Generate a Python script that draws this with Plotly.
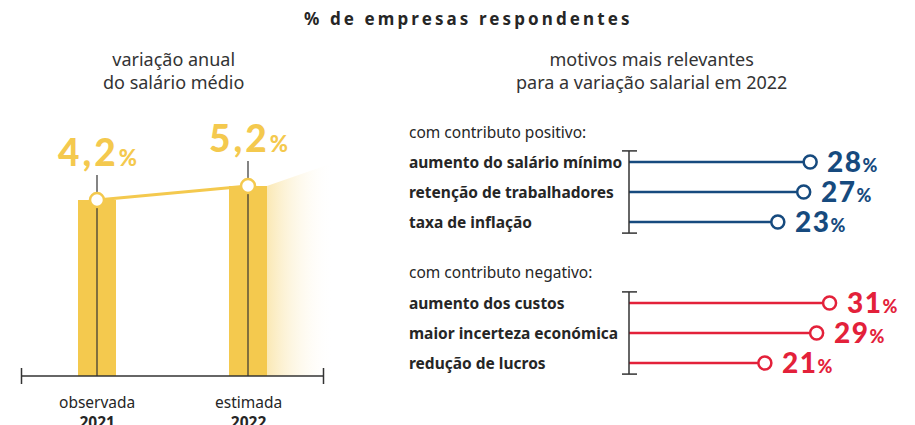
import plotly.graph_objects as go

# ---------------- data ----------------
years = ["2021", "2022"]
year_kind = ["observada", "estimada"]
salary_var = [4.2, 5.2]
salary_lbl = ["4,2", "5,2"]

pos_reasons = ["aumento do salário mínimo", "retenção de trabalhadores", "taxa de inflação"]
pos_values = [28, 27, 23]
neg_reasons = ["aumento dos custos", "maior incerteza económica", "redução de lucros"]
neg_values = [31, 29, 21]

# ---------------- style ----------------
W, H = 915, 425
OFF = 8  # page body margin
YELLOW = "#F4C94E"
BLUE = "#164A7E"
RED = "#E3213A"
DARK = "#262626"
FONT = "Noto Sans"
NUMFONT = "Lato"

def py(px):  # screen pixel row -> paper y
    return 1 - (px - OFF) / H

def pxx(px):  # screen pixel col -> paper x
    return (px - OFF) / W

# left panel scale
LX0, LXS = 97, 151.0          # px of category 0, px per unit
LY0, LYS = 258.8, 14.0        # px of value 0, px per unit
BASE = (LY0 - 376) / LYS      # baseline value (axis position)
lx_dom = (14, 340)
ly_dom = (95, 392)
lx_rng = [(lx_dom[0] - LX0) / LXS, (lx_dom[1] - LX0) / LXS]
ly_rng = [(LY0 - ly_dom[1]) / LYS, (LY0 - ly_dom[0]) / LYS]

# right panel scale
RX0, RXS = 629, 6.47
rx_dom = (612, 920)
rx_rng = [(rx_dom[0] - RX0) / RXS, (rx_dom[1] - RX0) / RXS]
ROW = 30.0

fig = go.Figure()
xs = list(range(len(years)))

# bars
fig.add_trace(go.Bar(x=xs, y=[v - BASE for v in salary_var], base=BASE, width=0.25,
                     marker=dict(color=YELLOW, line=dict(width=0)), xaxis="x", yaxis="y",
                     hoverinfo="skip"))
# gradient decoration to the right of 2022 bar
gx0 = xs[-1] + 0.125
gx1 = (333 - LX0) / LXS
gtop = salary_var[-1] + (salary_var[-1] - salary_var[0]) * 1.64
fig.add_trace(go.Scatter(x=[gx0, gx1, gx1, gx0, gx0], y=[salary_var[-1], gtop, BASE, BASE, salary_var[-1]],
                         mode="lines", line=dict(width=0), fill="toself",
                         fillgradient=dict(type="horizontal",
                                           colorscale=[[0, "rgba(244,201,78,0.42)"], [1, "rgba(255,255,255,0)"]]),
                         xaxis="x", yaxis="y", hoverinfo="skip"))
# black vertical guide lines
vx, vy = [], []
for i, v in zip(xs, salary_var):
    vx += [i, i, None]
    vy += [BASE, v + 25 / LYS, None]
fig.add_trace(go.Scatter(x=vx, y=vy, mode="lines", line=dict(color="#333333", width=1.2),
                         xaxis="x", yaxis="y", hoverinfo="skip"))
# yellow line + circles
fig.add_trace(go.Scatter(x=xs, y=salary_var, mode="lines+markers",
                         line=dict(color=YELLOW, width=3),
                         marker=dict(size=14, color="white", line=dict(color=YELLOW, width=2.5)),
                         xaxis="x", yaxis="y", hoverinfo="skip"))

# lollipops
def lollipop(reasons, values, color, xa, ya):
    lx, ly = [], []
    for r, v in zip(reasons, values):
        lx += [0, v, None]
        ly += [r, r, None]
    fig.add_trace(go.Scatter(x=lx, y=ly, mode="lines", line=dict(color=color, width=2.5),
                             xaxis=xa, yaxis=ya, hoverinfo="skip"))
    fig.add_trace(go.Scatter(x=values, y=reasons, mode="markers",
                             marker=dict(size=13, color="white", line=dict(color=color, width=2.5)),
                             xaxis=xa, yaxis=ya, hoverinfo="skip"))

lollipop(pos_reasons, pos_values, BLUE, "x2", "y2")
lollipop(neg_reasons, neg_values, RED, "x3", "y3")

annotations = []
shapes = []

# titles
annotations.append(dict(x=pxx(468), y=py(18), xref="paper", yref="paper", xanchor="center", yanchor="middle",
                         showarrow=False,
                         text="<span style='letter-spacing:3.1px'>% de empresas respondentes</span>",
                         font=dict(family=FONT, size=17, color=DARK, weight=700)))
annotations.append(dict(x=pxx(173), y=py(71), xref="paper", yref="paper", xanchor="center", yanchor="middle",
                         showarrow=False, text="variação anual<br>do salário médio",
                         font=dict(family=FONT, size=18, color="#333333")))
annotations.append(dict(x=pxx(651), y=py(71), xref="paper", yref="paper", xanchor="center", yanchor="middle",
                         showarrow=False, text="motivos mais relevantes<br>para a variação salarial em 2022",
                         font=dict(family=FONT, size=18, color="#333333")))

# left panel labels
for i, v, lbl, yr, kind in zip(xs, salary_var, salary_lbl, years, year_kind):
    annotations.append(dict(x=i, y=v, xref="x", yref="y", xanchor="center", yanchor="bottom", yshift=24,
                            showarrow=False,
                            text=f"<span style='letter-spacing:3px'>{lbl}</span><span style='font-size:22px'>%</span>",
                            font=dict(family=NUMFONT, size=37, color=YELLOW, weight=900)))
    annotations.append(dict(x=i, y=BASE, xref="x", yref="y", xanchor="center", yanchor="top", yshift=-13,
                            showarrow=False, text=f"{kind}<br><b>{yr}</b>",
                            font=dict(family=FONT, size=15.5, color=DARK)))

# left axis line with end ticks
ax0, ax1 = xs[0] - 0.5, xs[-1] + 0.5
shapes.append(dict(type="line", xref="x", yref="y", x0=ax0, x1=ax1, y0=BASE, y1=BASE,
                   line=dict(color="#333333", width=1.5)))
for xv in (ax0, ax1):
    shapes.append(dict(type="line", xref="x", yref="y", x0=xv, x1=xv, y0=BASE - 8 / LYS, y1=BASE + 8 / LYS,
                       line=dict(color="#333333", width=1.5)))

# right panel labels
def group_labels(header, header_px, reasons, values, color, xa, ya):
    annotations.append(dict(x=pxx(407), y=py(header_px), xref="paper", yref="paper", xanchor="left",
                            yanchor="middle", showarrow=False, text=header,
                            font=dict(family=FONT, size=15.5, color=DARK)))
    for r, v in zip(reasons, values):
        annotations.append(dict(x=pxx(407), y=r, xref="paper", yref=ya, xanchor="left", yanchor="middle",
                                showarrow=False, text=r,
                                font=dict(family=FONT, size=15.5, color=DARK, weight=700)))
        annotations.append(dict(x=v, y=r, xref=xa, yref=ya, xanchor="left", yanchor="middle", xshift=15, yshift=1,
                                showarrow=False,
                                text=f"<span style='letter-spacing:1.5px'>{v}</span><span style='font-size:18px'>%</span>",
                                font=dict(family=NUMFONT, size=28, color=color, weight=900)))
    n = len(reasons)
    y0, y1 = -0.37, n - 1 + 0.37
    shapes.append(dict(type="line", xref=xa, yref=ya, x0=0, x1=0, y0=y0, y1=y1,
                       line=dict(color="#333333", width=1.5)))
    for yv in (y0, y1):
        shapes.append(dict(type="line", xref=xa, yref=ya, x0=-7 / RXS, x1=8 / RXS, y0=yv, y1=yv,
                           line=dict(color="#333333", width=1.5)))

group_labels("com contributo positivo:", 132, pos_reasons, pos_values, BLUE, "x2", "y2")
group_labels("com contributo negativo:", 272, neg_reasons, neg_values, RED, "x3", "y3")

hid = dict(showgrid=False, zeroline=False, showticklabels=False, showline=False, ticks="", fixedrange=True)

fig.update_layout(
    width=W, height=H, margin=dict(l=0, r=0, t=0, b=0),
    paper_bgcolor="white", plot_bgcolor="rgba(0,0,0,0)",
    showlegend=False, bargap=0,
    font=dict(family=FONT, color=DARK),
    xaxis=dict(domain=[pxx(lx_dom[0]), pxx(lx_dom[1])], range=lx_rng, **hid),
    yaxis=dict(domain=[py(ly_dom[1]), py(ly_dom[0])], range=ly_rng, **hid),
    xaxis2=dict(domain=[pxx(rx_dom[0]), pxx(rx_dom[1])], range=rx_rng, anchor="y2", **hid),
    yaxis2=dict(domain=[py(244), py(140)], range=[(244 - 162) / ROW, -(162 - 140) / ROW],
                type="category", categoryarray=pos_reasons, anchor="x2", **hid),
    xaxis3=dict(domain=[pxx(rx_dom[0]), pxx(rx_dom[1])], range=rx_rng, anchor="y3", **hid),
    yaxis3=dict(domain=[py(385), py(281)], range=[(385 - 303) / ROW, -(303 - 281) / ROW],
                type="category", categoryarray=neg_reasons, anchor="x3", **hid),
    annotations=annotations, shapes=shapes,
)

fig.write_html("out.html")
